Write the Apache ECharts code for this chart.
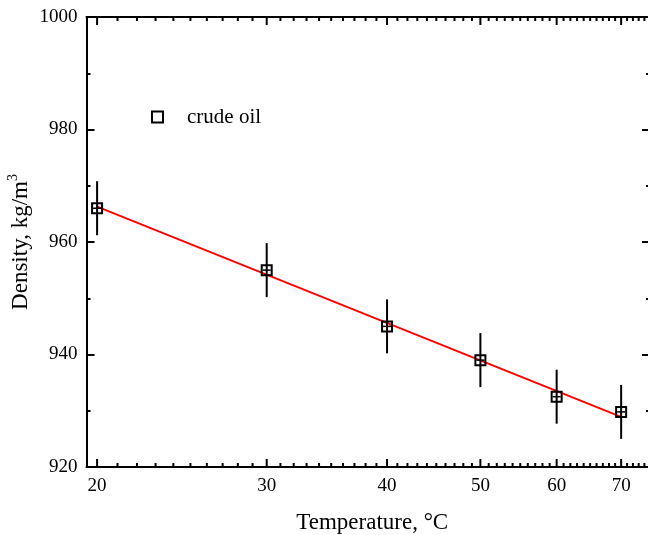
<!DOCTYPE html>
<html>
<head>
<meta charset="utf-8">
<script src="https://cdn.jsdelivr.net/npm/echarts@6/dist/echarts.min.js"></script>
<style>
html,body{margin:0;padding:0;background:#fff;}
#chart{width:648px;height:535px;}
</style>
</head>
<body>
<div id="chart"></div>
<script>
// ---- data ----
const temperatures = [20, 30, 40, 50, 60, 70];
const densities = [966.0, 955.0, 945.0, 939.0, 932.5, 929.8];
const densityErrors = [4.8, 4.8, 4.8, 4.8, 4.8, 4.8];
const fitTemperatures = [20, 70];
const fitDensities = [966.3, 928.9];
const xMajorTicks = [20, 30, 40, 50, 60, 70];
const xMinorTicks = [21, 22, 23, 24, 25, 26, 27, 28, 29,
  31, 32, 33, 34, 35, 36, 37, 38, 39,
  41, 42, 43, 44, 45, 46, 47, 48, 49,
  51, 52, 53, 54, 55, 56, 57, 58, 59,
  61, 62, 63, 64, 65, 66, 67, 68, 69,
  71, 72, 73, 74];
const yMin = 920, yMax = 1000, yInterval = 20;
const xMin = 19.5, xMax = 75;
const seriesName = 'crude oil';
const xName = 'Temperature, °C';
const yNameMain = 'Density, kg/m';
const yNameSup = '3';

const FONT = '"Liberation Serif", "Times New Roman", serif';

const pointData = temperatures.map((t, i) => [t, densities[i]]);
const errData = temperatures.map((t, i) => [t, densities[i], densityErrors[i]]);
const fitData = fitTemperatures.map((t, i) => [t, fitDensities[i]]);
const tickData = xMajorTicks.map(v => [v, 1]).concat(xMinorTicks.map(v => [v, 0]));

const chart = echarts.init(document.getElementById('chart'), null, {renderer: 'canvas'});

const yAxisCommon = {
  type: 'value', min: yMin, max: yMax, interval: yInterval,
  axisLine: {show: true, lineStyle: {color: '#000', width: 2}},
  axisTick: {show: true, inside: true, length: 8, lineStyle: {color: '#000', width: 2}},
  minorTick: {show: true, splitNumber: 2, length: 4, lineStyle: {color: '#000', width: 2}},
  splitLine: {show: false},
  minorSplitLine: {show: false}
};
const xAxisCommon = {
  type: 'log', logBase: 10, min: xMin, max: xMax,
  axisLine: {show: true, lineStyle: {color: '#000', width: 2}},
  axisTick: {show: false}, axisLabel: {show: false},
  minorTick: {show: false}, splitLine: {show: false}, minorSplitLine: {show: false}
};

chart.setOption({
  animation: false,
  backgroundColor: '#fff',
  grid: {left: 86.5, top: 17, width: 563.5, height: 450, containLabel: false, outerBoundsMode: 'none'},
  legend: {
    show: true, left: 146, top: 101.5, orient: 'vertical',
    itemWidth: 11, itemHeight: 11, itemGap: 10,
    data: [seriesName],
    textStyle: {fontFamily: FONT, fontSize: 21, color: '#000', padding: [0, 0, 0, 19]}
  },
  xAxis: [
    Object.assign({}, xAxisCommon, {
      position: 'bottom', name: xName, nameLocation: 'middle', nameGap: 44, nameMoveOverlap: false,
      nameTextStyle: {fontFamily: FONT, fontSize: 23, color: '#000', padding: [0, 0, 0, 8]}
    }),
    Object.assign({}, xAxisCommon, {position: 'top'})
  ],
  yAxis: [
    Object.assign({}, yAxisCommon, {
      position: 'left', name: '{m|' + yNameMain + '}{s|' + yNameSup + '}',
      nameLocation: 'middle', nameGap: 54, nameRotate: 90, nameMoveOverlap: false,
      nameTextStyle: {fontFamily: FONT, fontSize: 23, color: '#000',
        rich: {
          m: {fontFamily: FONT, fontSize: 23, color: '#000', verticalAlign: 'bottom', lineHeight: 30},
          s: {fontFamily: FONT, fontSize: 14, color: '#000', verticalAlign: 'top', lineHeight: 20, padding: [4, 0, 0, 0]}
        }},
      axisLabel: {show: true, margin: 9, fontFamily: FONT, fontSize: 19, color: '#000',
        formatter: function (v) { return String(v); }}
    }),
    Object.assign({}, yAxisCommon, {position: 'right', axisLabel: {show: false}})
  ],
  series: [
    {
      type: 'custom', name: 'xticks', xAxisIndex: 0, yAxisIndex: 0, silent: true,
      clip: false, z: 5,
      data: tickData,
      encode: {x: 0, y: -1},
      renderItem: function (params, api) {
        const v = api.value(0);
        const major = api.value(1) === 1;
        const b = api.coord([v, yMin]);
        const t = api.coord([v, yMax]);
        const len = major ? 8 : 4;
        const children = [
          {type: 'line', shape: {x1: b[0], y1: b[1], x2: b[0], y2: b[1] - len}, style: {stroke: '#000', lineWidth: 2}},
          {type: 'line', shape: {x1: t[0], y1: t[1], x2: t[0], y2: t[1] + len}, style: {stroke: '#000', lineWidth: 2}}
        ];
        if (major) {
          children.push({type: 'text', x: b[0], y: b[1] + 10, style: {
            text: String(v), fill: '#000', font: '19px ' + FONT, align: 'center', verticalAlign: 'top'
          }});
        }
        return {type: 'group', children: children};
      }
    },
    {
      type: 'line', name: 'fit', data: fitData, showSymbol: false, symbol: 'none',
      lineStyle: {color: '#ff0000', width: 2}, z: 3, silent: true
    },
    {
      type: 'custom', name: 'errors', data: errData, encode: {x: 0, y: 1}, z: 4, silent: true,
      renderItem: function (params, api) {
        const x = api.value(0), y = api.value(1), e = api.value(2);
        const top = api.coord([x, y + e]);
        const bot = api.coord([x, y - e]);
        const c = api.coord([x, y]);
        return {type: 'group', children: [
          {type: 'line', shape: {x1: top[0], y1: top[1], x2: bot[0], y2: bot[1]}, style: {stroke: '#000', lineWidth: 2}},
          {type: 'line', shape: {x1: c[0] - 4, y1: c[1], x2: c[0] + 4, y2: c[1]}, style: {stroke: '#000', lineWidth: 1.5}}
        ]};
      }
    },
    {
      type: 'scatter', name: seriesName, data: pointData, symbol: 'rect', symbolSize: 10, z: 6,
      itemStyle: {color: 'rgba(0,0,0,0)', borderColor: '#000', borderWidth: 2, opacity: 1}
    }
  ]
});
</script>
</body>
</html>
